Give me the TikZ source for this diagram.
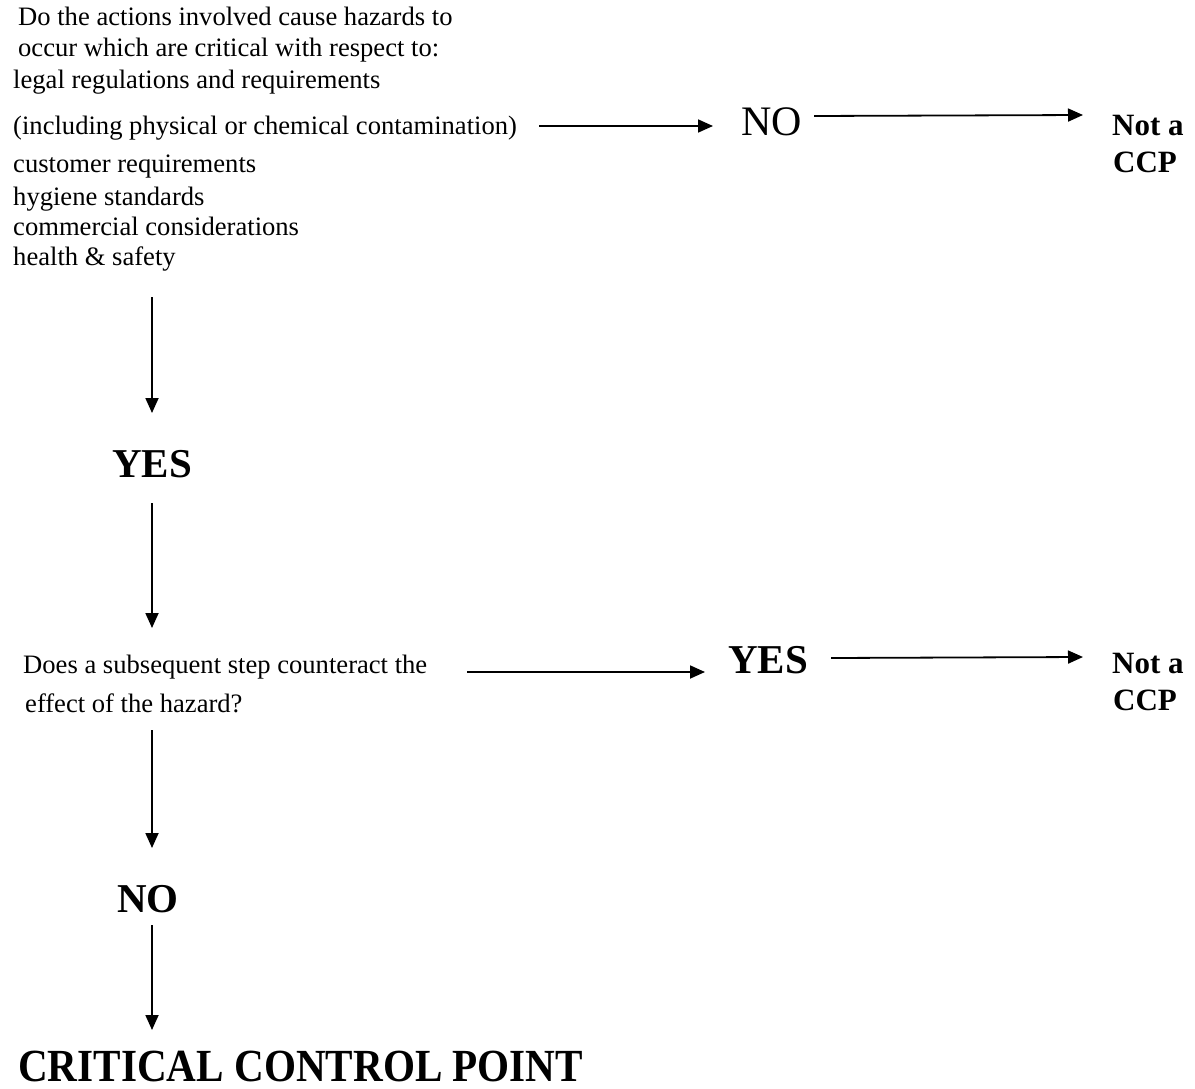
\documentclass[tikz,border=0pt]{standalone}
\usepackage{fontspec}
\setmainfont{Liberation Serif}
\usetikzlibrary{arrows.meta,calc}
\begin{document}
\begin{tikzpicture}[x=1pt,y=-1pt,
  txt/.style={inner sep=0pt,anchor=base west,font=\fontsize{26.6}{32}\selectfont},
  bigr/.style={inner sep=0pt,anchor=base west,font=\fontsize{42}{48}\selectfont},
  bigb/.style={inner sep=0pt,font=\fontsize{41}{48}\selectfont\bfseries},
  ccp/.style={inner sep=0pt,anchor=base west,font=\fontsize{31}{37}\selectfont\bfseries},
  ttl/.style={inner sep=0pt,anchor=base west,font=\fontsize{46}{50}\selectfont\bfseries},
  arr/.style={line width=1.8pt,-{Triangle[length=15pt,width=13pt]}}]
\useasboundingbox (0,0) rectangle (1195,1089);
% first question
\node[txt] (q1a) at (18,26) {Do the actions involved cause hazards to};
\node[txt] (q1b) at (18,57) {occur which are critical with respect to:};
\node[txt] (q1c) at (13,89) {legal regulations and requirements};
\node[txt] (q1d) at (13,135) {(including physical or chemical contamination)};
\node[txt] (q1e) at (13,173) {customer requirements};
\node[txt] (q1f) at (13,205) {hygiene standards};
\node[txt] (q1g) at (13,235) {commercial considerations};
\node[txt] (q1h) at (13,265) {health \& safety};
\node[bigr] (no1) at (741,136) {NO};
\node[ccp] (n1) at (1112,136) {Not a};
\node[ccp] (n1b) at (1113,173) {CCP};
\draw[arr] ($(q1d.base east)+(22,-9)$) -- ($(no1.base west)+(-28,-10)$);
\draw[arr] ($(no1.base east)+(12,-20)$) -- ($(n1.base west)+(-29,-21)$);
% YES
\node[bigb,anchor=base] (yes1) at (152,477) {YES};
\draw[arr] ($(q1h.base west)+(139,32)$) -- ($(yes1.base)+(0,-64)$);
% second question
\node[txt] (q2a) at (23,673) {Does a subsequent step counteract the};
\node[txt] (q2b) at (25,712) {effect of the hazard?};
\draw[arr] ($(yes1.base)+(0,26)$) -- ($(q2a.base west)+(129,-45)$);
\node[bigb,anchor=base west] (yes2) at (728,673) {YES};
\node[ccp] (n2) at (1112,673) {Not a};
\node[ccp] (n2b) at (1113,710) {CCP};
\draw[arr] ($(q2a.base east)+(40,-1)$) -- ($(yes2.base west)+(-23,-1)$);
\draw[arr] ($(yes2.base east)+(23,-15)$) -- ($(n2.base west)+(-29,-16)$);
% NO
\node[bigb,anchor=base] (no2) at (148,912) {NO};
\draw[arr] ($(q2b.base west)+(127,18)$) -- ($(no2.base)+(4,-64)$);
\node[ttl] (cp) at (18,1081) {\scalebox{0.895}[1]{CRITICAL CONTROL POINT}};
\draw[arr] ($(no2.base)+(4,13)$) -- ($(cp.base west)+(134,-51)$);
\end{tikzpicture}
\end{document}
